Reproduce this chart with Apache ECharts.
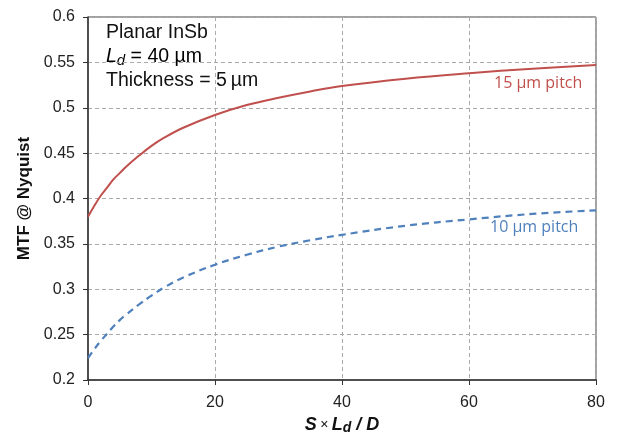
<!DOCTYPE html>
<html>
<head>
<meta charset="utf-8">
<script src="https://cdn.jsdelivr.net/npm/echarts@6/dist/echarts.min.js"></script>
<style>html,body{margin:0;padding:0;background:#fff;}#c{width:619px;height:436px;}</style>
</head>
<body>
<div id="c"></div>
<script>
var xValues = [0, 1, 2, 3, 4, 5, 6, 8, 10, 12, 15, 20, 25, 30, 35, 40, 50, 60, 70, 80];
var pitch15 = [0.380, 0.392, 0.403, 0.412, 0.421, 0.428, 0.435, 0.447, 0.458, 0.467, 0.478, 0.492, 0.503, 0.511, 0.518, 0.524, 0.532, 0.538, 0.543, 0.547];
var pitch10 = [0.224, 0.234, 0.243, 0.251, 0.259, 0.266, 0.272, 0.283, 0.293, 0.302, 0.313, 0.327, 0.338, 0.347, 0.354, 0.360, 0.370, 0.377, 0.383, 0.387];
var xTicks = [0, 20, 40, 60, 80];
var yTicks = [0.2, 0.25, 0.3, 0.35, 0.4, 0.45, 0.5, 0.55, 0.6];
var seriesNames = ['15 µm pitch', '10 µm pitch'];
var infoLines = ['Planar InSb', 'L_d = 40 µm', 'Thickness = 5\u2009µm'];

function pairs(xs, ys) { return xs.map(function (x, i) { return [x, ys[i]]; }); }

var chart = echarts.init(document.getElementById('c'), null, { renderer: 'canvas' });
var FONT = 'Liberation Sans';
chart.setOption({
  animation: false,
  backgroundColor: '#fff',
  grid: { left: 88, right: 23, top: 17, bottom: 56, containLabel: false, outerBoundsMode: 'none',
          show: true, borderColor: '#444', borderWidth: 1, backgroundColor: 'transparent' },
  xAxis: {
    type: 'value', min: 0, max: 80, interval: 20,
    axisLine: { show: true, lineStyle: { color: '#333', width: 1.5 } },
    axisTick: { show: true, length: 5, lineStyle: { color: '#333' } },
    axisLabel: { fontFamily: FONT, fontSize: 16, color: '#222', margin: 15, formatter: function (v) { return xTicks.indexOf(v) >= 0 ? String(v) : ''; } },
    splitLine: { show: true, lineStyle: { color: '#aaa', type: [4, 3], width: 1 } },
    name: '{b|S} {x|×} {b|L}{s|d}{b| / D}',
    nameLocation: 'middle', nameGap: 35,
    nameTextStyle: {
      rich: {
        b: { fontFamily: FONT, fontSize: 18, fontWeight: 'bold', fontStyle: 'italic', color: '#111' },
        x: { fontFamily: FONT, fontSize: 14, color: '#111' },
        s: { fontFamily: FONT, fontSize: 14, fontWeight: 'bold', fontStyle: 'italic', color: '#111', verticalAlign: 'bottom', padding: [6, 0, 0, 0] }
      }
    }
  },
  yAxis: {
    type: 'value', min: 0.2, max: 0.6, interval: 0.05,
    axisLine: { show: true, lineStyle: { color: '#333', width: 1.5 } },
    axisTick: { show: true, length: 5, lineStyle: { color: '#333' } },
    axisLabel: { fontFamily: FONT, fontSize: 16, color: '#222', margin: 13,
      formatter: function (v) { var r = Math.round(v * 100) / 100; return String(r); } },
    splitLine: { show: true, lineStyle: { color: '#aaa', type: [4, 3], width: 1 } },
    name: 'MTF @ Nyquist', nameLocation: 'middle', nameGap: 54, nameRotate: 90,
    nameTextStyle: { fontFamily: FONT, fontSize: 17, fontWeight: 'bold', color: '#111' }
  },
  series: [
    { name: seriesNames[0], type: 'line', data: pairs(xValues, pitch15), smooth: 0.4, showSymbol: false,
      lineStyle: { color: '#C0504D', width: 2 }, itemStyle: { color: '#C0504D' }, z: 5 },
    { name: seriesNames[1], type: 'line', data: pairs(xValues, pitch10), smooth: 0.4, showSymbol: false,
      lineStyle: { color: '#4F81BD', width: 2.2, type: [7, 5] }, itemStyle: { color: '#4F81BD' }, z: 5 }
  ],
  graphic: [
    { type: 'text', left: 106, top: 23, style: { text: infoLines[0], fontFamily: FONT, fontSize: 19.5, fill: '#111' } },
    { type: 'text', left: 106, top: 47, style: { text: '{i|L}{s|d}{n| = 40 µm}',
      rich: { i: { fontFamily: FONT, fontSize: 19.5, fontStyle: 'italic', color: '#111' },
              s: { fontFamily: FONT, fontSize: 15, fontStyle: 'italic', color: '#111', verticalAlign: 'bottom', padding: [7, 0, 0, 0] },
              n: { fontFamily: FONT, fontSize: 19.5, color: '#111' } } } },
    { type: 'text', left: 106, top: 71, style: { text: infoLines[2], fontFamily: FONT, fontSize: 19.5, fill: '#111' } },
    { type: 'text', left: 494, top: 75, style: { text: seriesNames[0], fontFamily: 'Open Sans', fontSize: 16, fill: '#C0504D' } },
    { type: 'text', left: 490, top: 219, style: { text: seriesNames[1], fontFamily: 'Open Sans', fontSize: 16, fill: '#4F81BD' } }
  ]
});
</script>
</body>
</html>
